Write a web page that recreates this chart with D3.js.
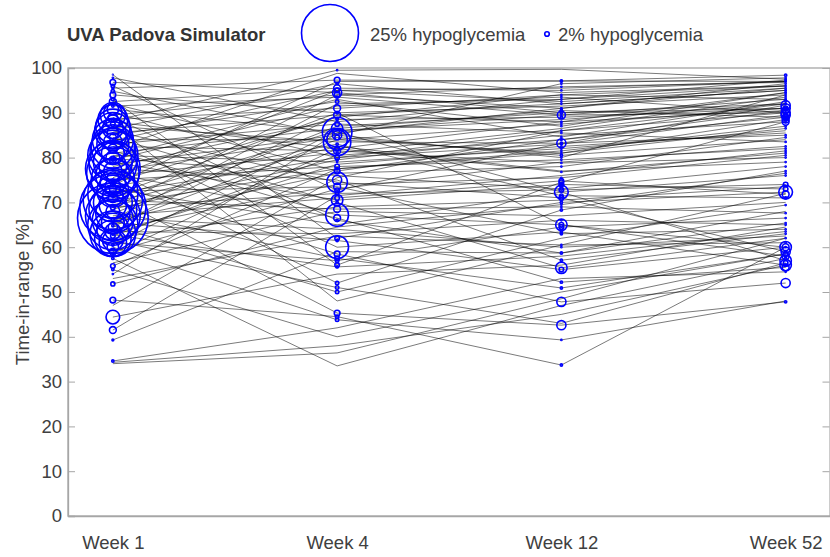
<!DOCTYPE html>
<html>
<head>
<meta charset="utf-8">
<script src="https://cdn.jsdelivr.net/npm/d3@7"></script>
<style>
  body { margin: 0; background: #fff; }
  svg { font-family: "Liberation Sans", Arial, Helvetica, sans-serif; }
</style>
</head>
<body>
<script>
const weeks = ['Week 1', 'Week 4', 'Week 12', 'Week 52'];
const yTicks = [0, 10, 20, 30, 40, 50, 60, 70, 80, 90, 100];

// time-in-range per subject, one array per visit
const tir1 = [98.5, 97.8, 96.8, 96.0, 95.5, 94.8, 94.0, 93.0, 92.5, 92.0,
  91.5, 90.8, 90.0, 89.5, 89.0, 88.5, 88.2, 88.0, 87.5, 87.0,
  86.5, 86.0, 85.5, 85.0, 84.5, 84.0, 83.8, 83.5, 83.0, 82.5,
  82.0, 81.5, 81.0, 80.5, 80.0, 79.8, 79.5, 79.0, 78.5, 78.0,
  77.5, 77.2, 77.0, 76.5, 76.0, 75.5, 75.0, 74.5, 74.0, 73.8,
  73.5, 73.0, 72.5, 72.0, 71.5, 71.2, 71.0, 70.5, 70.0, 69.5,
  69.0, 68.8, 68.5, 68.0, 67.5, 67.0, 66.5, 66.2, 66.0, 65.5,
  65.0, 64.8, 64.5, 64.0, 63.5, 63.0, 62.8, 62.5, 62.0, 61.5,
  61.0, 60.5, 60.0, 59.0, 58.5, 57.5, 56.5, 55.8, 55.0, 54.0,
  53.0, 51.8, 48.2, 47.0, 44.4, 41.5, 39.3, 34.6, 34.3, 34.0];
const tir4 = [62, 88, 94.5, 72.7, 97.3, 85, 90, 56, 95.5, 80,
  93.5, 85.7, 77, 94, 66, 91, 99.5, 82, 48, 83.5,
  96.5, 74.5, 89.5, 92.5, 70, 84, 95, 60, 87.5, 81.5,
  98.8, 67.2, 86.5, 79, 93, 76, 91.5, 70.5, 85, 88.5,
  75, 52, 84.5, 66.5, 81, 95, 78, 89, 58.5, 97,
  83, 65, 73.5, 80, 90, 45.3, 86, 68.5, 82.5, 77.5,
  72, 94, 79.5, 57.5, 87, 71, 64, 92, 76.5, 61.5,
  84, 50, 89.5, 74, 63, 78.5, 55.6, 80.5, 69, 51,
  57, 86, 43.8, 73, 82, 33.5, 68, 77.5, 40, 85.5,
  62.5, 64.5, 44.5, 75.5, 54, 71.5, 59, 42, 38, 36.4];
const tir12 = [70, 93, 90, 83.2, 97.1, 80, 65, 74.5, 95, 86,
  89.5, 72.3, 84, 91, 58.7, 94, 99.7, 76.8, 60.5, 83.2,
  92, 71, 88, 87, 55.4, 81, 95.5, 63.4, 85.5, 78.8,
  94.5, 65, 90.5, 82, 84.6, 73, 93.5, 74, 96.5, 89,
  57.1, 68.3, 80.5, 52.2, 86.5, 92.5, 79.5, 94, 47.8, 97.1,
  71.5, 72.3, 63, 83, 91.5, 42.6, 88.5, 69, 77, 81.5,
  72.8, 95.8, 85, 50.9, 90, 74.8, 60, 93, 78, 55,
  87.5, 62, 92, 75.5, 66, 82.5, 58, 84, 70.5, 43,
  64.5, 89.5, 39.3, 79, 88, 47, 67, 81, 50, 91,
  60.5, 69.5, 33.7, 86, 56, 76, 58.7, 53, 45, 48.5];
const tir52 = [72.3, 96, 91, 85, 98.4, 94, 60, 88, 97, 92,
  90, 57, 89, 96.5, 65.4, 93, 97.5, 81, 72, 91.7,
  95, 59, 90.5, 94.5, 62, 88.5, 97, 56, 83.5, 80,
  96, 58, 89, 86, 92.5, 78, 90, 73, 97.8, 91,
  63, 77, 84, 55.5, 93.5, 95.5, 82, 96, 52, 97,
  71, 76, 64, 89.5, 94, 47.8, 92, 67.6, 79, 87,
  74, 96.8, 88, 58.5, 92, 71.8, 62.5, 97.3, 84.5, 60,
  91, 69.4, 95, 80.5, 65, 85.5, 63.5, 90.5, 73.5, 56.5,
  66.5, 93, 48, 82.5, 94.5, 57.5, 70, 86.5, 58.5, 95.5,
  61, 76.5, 60, 90, 64.5, 81.5, 68, 54.5, 56, 62];

// percent time in hypoglycemia per subject, one array per visit
const hypo1 = [0.3, 0.5, 2.5, 1.5, 0.8, 1.5, 2.5, 1.2, 3, 0.6,
  1, 5, 8, 11, 4, 13, 1, 6, 2, 15,
  9, 16, 5, 12, 3, 18, 0.5, 8, 14, 19,
  4, 20, 10, 22, 6, 1.5, 3, 17, 21, 12,
  24, 0.5, 8, 23, 15, 5, 19, 11, 2, 1,
  7, 3, 14, 22, 9, 0.8, 4, 26, 17, 12,
  29, 2, 21, 6, 15, 24, 31, 1.5, 18, 10,
  22, 1, 4, 14, 7, 20, 0.5, 2, 16, 9,
  12, 1, 5, 3, 0.5, 1, 0, 2, 1, 0.5,
  0, 1.8, 2.5, 0, 6, 3, 0.8, 1, 0, 0];
const hypo4 = [2, 0, 4, 2, 2.5, 4, 1, 2, 3, 0,
  1, 13, 2.5, 2.5, 1, 3, 0.5, 2, 0, 12,
  1, 9, 3, 1.5, 1, 9, 0, 10, 2, 3,
  0, 10, 5, 0.5, 0, 0, 0, 5, 0, 1,
  4, 1.5, 2, 3, 1, 2, 2, 0, 2.5, 0,
  1, 0, 3, 2, 0, 2.5, 0, 3, 0, 1,
  1.5, 0, 1, 2, 0, 2, 0, 0, 0, 1,
  0, 1.5, 0, 0, 0, 0, 1, 0, 0, 1.5,
  1.5, 0, 1.5, 0, 0, 0, 0, 0, 0, 0,
  0, 0, 1.5, 0, 0, 0, 0, 0, 0, 0];
const hypo12 = [1, 0.5, 1, 4, 1, 0.5, 5, 2, 0.5, 0.5,
  3.5, 6, 0.5, 0.5, 1, 0.5, 0, 0.5, 0.5, 1,
  0.5, 2, 0.5, 0.5, 5, 0.5, 0, 1, 0.5, 0.5,
  0, 2, 1, 0.5, 0.5, 1, 0.5, 2, 0.5, 1,
  1, 1, 1, 1, 0, 0.5, 0.5, 0, 4, 0.5,
  1.5, 0, 1, 0.5, 0, 4, 0, 0.5, 0, 0.5,
  2, 0.5, 0, 1, 0, 2, 0.5, 0, 0.5, 2,
  0.5, 0, 0, 0.5, 0.5, 0.5, 0, 0.5, 0, 0,
  2, 0.5, 0.5, 0, 0.5, 0, 0, 0, 0, 0.5,
  0, 0.5, 1, 0, 0, 0, 0, 0, 0, 0];
const hypo52 = [6, 0.5, 4, 0.5, 1, 0.5, 5, 3, 0.5, 0,
  4, 5, 3, 0.5, 0.5, 0.5, 0.5, 0.5, 0, 4,
  0.5, 4, 3, 0.5, 0.5, 3, 0, 5, 0.5, 0.5,
  0, 3, 2, 0, 0.5, 0.5, 0, 2, 0.5, 2,
  0.5, 0.5, 0, 3, 0.5, 0.5, 0.5, 0, 4, 0.5,
  1, 0.5, 0.5, 4, 0, 1, 0.5, 0.5, 0.5, 0.5,
  2, 0, 0.5, 2, 0.5, 3, 0, 0.5, 0.5, 3,
  0.5, 0.5, 0.5, 0.5, 0.5, 0, 0.5, 0.5, 0, 2,
  0.5, 0.5, 0, 0.5, 0.5, 1, 0, 0.5, 0, 0,
  0.5, 0.5, 0.5, 0.5, 0, 0.5, 0, 0.5, 1, 0];

const tirs = [tir1, tir4, tir12, tir52];
const hypos = [hypo1, hypo4, hypo12, hypo52];

const width = 830, height = 557;
const svg = d3.select('body').append('svg')
  .attr('width', width)
  .attr('height', height);

const x = d3.scaleLinear().domain([0.8, 4.2]).range([68, 830.5]);
const y = d3.scaleLinear().domain([0, 100]).range([516, 68]);
const r = d3.scaleLinear().domain([0, 25]).range([0, 28.5]); // radius grows with hypo %

const boxColor = '#a6a6a6';
const textColor = '#404040';
const fontSize = '18.5px';

// box
svg.append('rect')
  .attr('x', x(0.8)).attr('y', y(100))
  .attr('width', x(4.2) - x(0.8)).attr('height', y(0) - y(100))
  .attr('fill', 'none').attr('stroke', boxColor).attr('stroke-width', 1.3);

const yAxis = svg.append('g')
  .attr('transform', `translate(${x(0.8)},0)`)
  .call(d3.axisLeft(y).tickValues(yTicks).tickSize(-7).tickPadding(6));
yAxis.select('.domain').attr('stroke', boxColor).attr('stroke-width', 1.3);
yAxis.selectAll('.tick line').attr('stroke', boxColor);
yAxis.selectAll('.tick text').attr('fill', textColor).style('font-size', fontSize);

const yAxisR = svg.append('g')
  .attr('transform', `translate(${x(4.2) - 1},0)`)
  .call(d3.axisRight(y).tickValues(yTicks).tickSize(-7).tickFormat(''));
yAxisR.select('.domain').attr('stroke', boxColor);
yAxisR.selectAll('.tick line').attr('stroke', boxColor);

const xAxis = svg.append('g')
  .attr('transform', `translate(0,${y(0)})`)
  .call(d3.axisBottom(x).tickValues([1, 2, 3, 4]).tickSize(0).tickPadding(20)
    .tickFormat(d => weeks[d - 1]));
xAxis.select('.domain').attr('stroke', boxColor).attr('stroke-width', 1.3);
xAxis.selectAll('.tick text').attr('fill', textColor).style('font-size', fontSize);

svg.append('text')
  .attr('transform', 'translate(29,292) rotate(-90)')
  .attr('text-anchor', 'middle')
  .attr('fill', textColor)
  .style('font-size', fontSize)
  .text('Time-in-range [%]');

// one line per subject
const subjects = d3.range(tir1.length).map(i => tirs.map((t, k) => ({
  week: k + 1, tir: t[i], hypo: hypos[k][i]
})));

const line = d3.line().x(d => x(d.week)).y(d => y(d.tir));

svg.append('g')
  .selectAll('path')
  .data(subjects)
  .join('path')
  .attr('d', line)
  .attr('fill', 'none')
  .attr('stroke', '#000')
  .attr('stroke-opacity', 0.75)
  .attr('stroke-width', 0.7);

svg.append('g')
  .selectAll('circle')
  .data(subjects.flat().filter(d => d.hypo > 0))
  .join('circle')
  .attr('cx', d => x(d.week))
  .attr('cy', d => y(d.tir))
  .attr('r', d => r(d.hypo))
  .attr('fill', 'none')
  .attr('stroke', '#0000ff')
  .attr('stroke-width', 1.6);

// legend
const legend = svg.append('g');
legend.append('text')
  .attr('x', 67).attr('y', 41)
  .attr('fill', '#333')
  .style('font-size', fontSize).style('font-weight', 'bold')
  .text('UVA Padova Simulator');
legend.append('circle')
  .attr('cx', 330).attr('cy', 33).attr('r', r(25))
  .attr('fill', 'none').attr('stroke', '#0000ff').attr('stroke-width', 1.6);
legend.append('text')
  .attr('x', 370).attr('y', 41)
  .attr('fill', textColor).style('font-size', fontSize)
  .text('25% hypoglycemia');
legend.append('circle')
  .attr('cx', 547).attr('cy', 34).attr('r', r(2))
  .attr('fill', 'none').attr('stroke', '#0000ff').attr('stroke-width', 1.6);
legend.append('text')
  .attr('x', 558).attr('y', 41)
  .attr('fill', textColor).style('font-size', fontSize)
  .text('2% hypoglycemia');
</script>
</body>
</html>
